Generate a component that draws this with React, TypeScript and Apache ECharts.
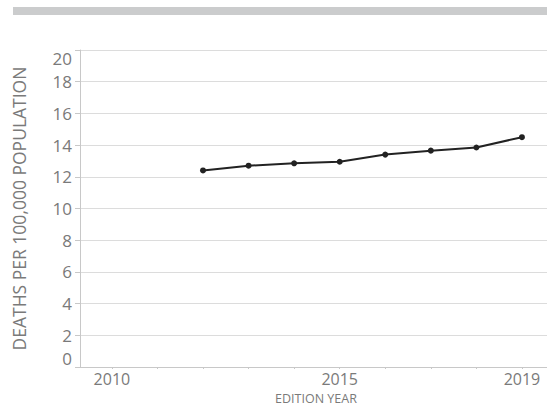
import React, { useEffect, useRef } from "react";
import * as echarts from "echarts";

const years = [2012, 2013, 2014, 2015, 2016, 2017, 2018, 2019];
const deaths = [12.4, 12.7, 12.85, 12.95, 13.4, 13.65, 13.85, 14.5];
const xLabelYears = [2010, 2015, 2019];
const xTickYears = [2010, 2011, 2012, 2013, 2014, 2015, 2016, 2017, 2018, 2019];
const xAxisTitle = "EDITION YEAR";
const yAxisTitle = "DEATHS PER 100,000 POPULATION";

export default function App() {
  const ref = useRef<HTMLDivElement>(null);
  useEffect(() => {
    const chart = echarts.init(ref.current!, null, { renderer: "svg" });
    const font = "Open Sans";
    chart.setOption({
      animation: false,
      textStyle: { fontFamily: font },
      graphic: [
        { type: "rect", shape: { x: 13, y: 7, width: 534, height: 8 }, style: { fill: "#cbcccd" } },
        {
          type: "text",
          x: 316,
          y: 398,
          style: { text: xAxisTitle, fill: "#7a7a7a", fontSize: 12.5, fontFamily: font, align: "center", verticalAlign: "middle" },
        },
      ],
      grid: { left: 80, right: 0, top: 50, bottom: 39, containLabel: false, outerBoundsMode: "none" },
      xAxis: {
        type: "value",
        min: 2009.3,
        max: 2019.55,
        axisLine: { show: true, lineStyle: { color: "#c8c8c8", width: 1 } },
        axisTick: { show: true, length: 2, lineStyle: { color: "#c8c8c8" }, customValues: xTickYears },
        axisLabel: { color: "#7a7a7a", fontSize: 16, margin: 4, lineHeight: 16, fontFamily: font, customValues: xLabelYears, formatter: (v: number) => String(v) },
        splitLine: { show: false },
      },
      yAxis: {
        type: "value",
        min: 0,
        max: 20,
        interval: 2,
        name: yAxisTitle,
        nameLocation: "middle",
        nameGap: 52,
        nameTextStyle: { color: "#7a7a7a", fontSize: 17.5, fontFamily: font },
        axisLine: { show: true, lineStyle: { color: "#c8c8c8", width: 1 } },
        axisTick: { show: true, length: 5, lineStyle: { color: "#c8c8c8" } },
        axisLabel: { color: "#7a7a7a", fontSize: 17, margin: 8, fontFamily: font, verticalAlignMaxLabel: "top", verticalAlignMinLabel: "bottom" },
        splitLine: { show: true, lineStyle: { color: "#dcdcdc", width: 1 } },
      },
      series: [
        {
          type: "line",
          data: years.map((y, i) => [y, deaths[i]]),
          symbol: "circle",
          symbolSize: 6,
          lineStyle: { color: "#222", width: 2 },
          itemStyle: { color: "#222" },
        },
      ],
    });
    return () => chart.dispose();
  }, []);
  return <div ref={ref} style={{ width: 547, height: 406, position: "absolute", left: 0, top: 0 }} />;
}
